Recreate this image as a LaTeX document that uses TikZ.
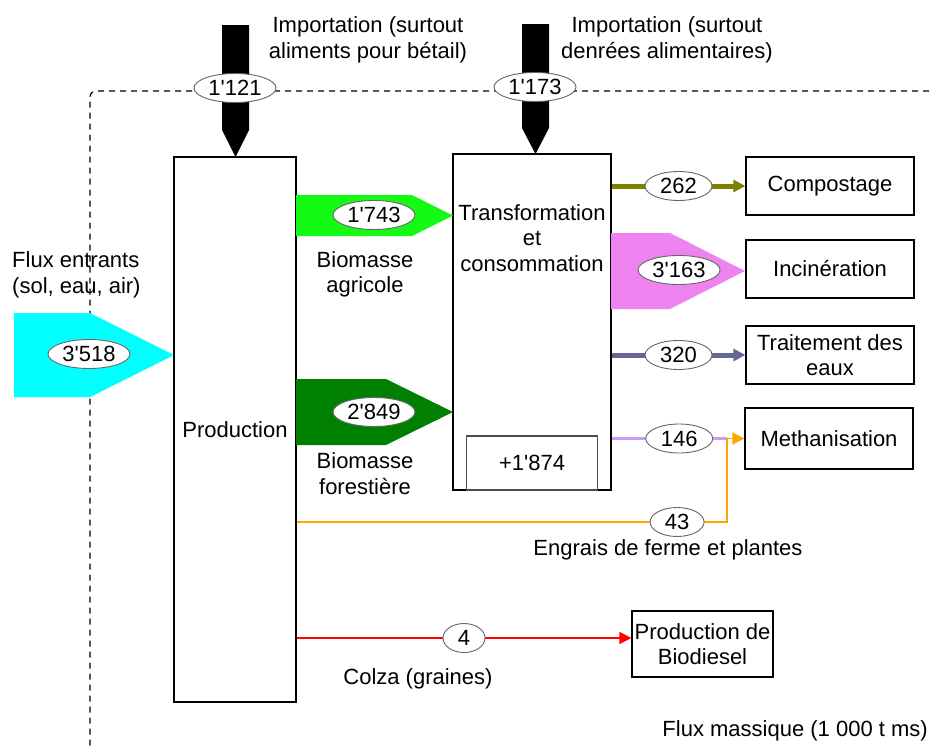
\documentclass[tikz,border=0pt]{standalone}
\usepackage{fontspec}
\setmainfont{Liberation Sans}
\usetikzlibrary{shapes.geometric,arrows.meta}
\definecolor{flcyan}{RGB}{0,255,255}
\definecolor{flgreen}{RGB}{20,250,20}
\definecolor{fldark}{RGB}{0,128,0}
\definecolor{flpink}{RGB}{238,130,238}
\definecolor{flolive}{RGB}{128,128,0}
\definecolor{flslate}{RGB}{102,102,153}
\definecolor{fllav}{RGB}{204,153,255}
\definecolor{florange}{RGB}{255,165,0}
\newcommand{\qs}{\textquotesingle}
\tikzset{
    BX/.style ={rectangle, draw, line width=1.2pt, align=center, inner sep=0pt},
    BS/.style ={rectangle, draw=black!70, line width=1.2pt, align=center, inner sep=0pt},
    EL/.style ={ellipse, draw=black!60, fill=white, text=black, line width=0.9pt, inner sep=0pt, minimum height=29pt, minimum width=#1},
    LB/.style ={align=center, inner sep=0pt},
    AR/.style ={-{Triangle[length=12pt,width=12pt]}},
    FX/.style ={line width=5pt, AR},
    TN/.style ={line width=1.5pt}}

\begin{document}
\begin{tikzpicture}[x=1pt,y=-1pt,font=\fontsize{22}{25.5}\selectfont]
        \useasboundingbox (0,0) rectangle (932,747);
        % cadre
        \draw[dash pattern=on 6pt off 5pt, line width=1.2pt, rounded corners=6pt] (940,91) -- (90,91) -- (90,760);
        % processus
        \node[BX, minimum width=122pt, minimum height=545pt] (P) at (235,429.5) {Production};
        \node[BX, minimum width=158pt, minimum height=336pt] (T) at (532,322) {};
        \node[LB] (tc) at (532,238) {Transformation\\et\\consommation};
        \node[BS, minimum width=131pt, minimum height=54pt, anchor=south] (S) at (T.south) {+1\qs874};
        \node[BX, minimum width=168pt, minimum height=58pt] (C) at (830,186) {Compostage};
        \node[BX, minimum width=168pt, minimum height=58pt] (I) at (830,269) {Incinération};
        \node[BX, minimum width=168pt, minimum height=58pt] (W) at (830,355) {Traitement des\\eaux};
        \node[BX, minimum width=168pt, minimum height=61pt] (M) at (829,438.5) {Methanisation};
        \node[BX, minimum width=141pt, minimum height=66pt] (B) at (702.5,644) {Production de\\Biodiesel};
        % flux larges
        \fill[black] (222,25) -- (249,25) -- (249,130) -- (235.5,157) -- (222,130) -- cycle;
        \fill[black] (522,24) -- (549,24) -- (549,128) -- (535.5,154) -- (522,128) -- cycle;
        \fill[flcyan] (14,313) -- (90,313) -- (174,355) -- (90,397) -- (14,397) -- cycle;
        \fill[flgreen] (296,195) -- (412,195) -- (453,215.5) -- (412,236) -- (296,236) -- cycle;
        \fill[fldark] (296,379) -- (386,379) -- (453,412) -- (386,445) -- (296,445) -- cycle;
        \fill[flpink] (611,233) -- (670,233) -- (745,271) -- (670,309) -- (611,309) -- cycle;
        \node[EL=82pt] (e1) at (235,88) {1\qs121};
        \node[EL=82pt] (e2) at (535,87) {1\qs173};
        \node[EL=82pt] (e3) at (89,354) {3\qs518};
        \node[EL=82pt] (e4) at (374,215) {1\qs743};
        \node[EL=82pt] (e5) at (374,412) {2\qs849};
        \node[EL=82pt] (e6) at (679,270) {3\qs163};
        % flux minces
        \coordinate (ej) at (727,522);
        \coordinate (rs) at ([yshift=6pt]B.west);
        \draw[FX, flolive] (T.east |- C) -- (C.west) node[EL=67pt, pos=.5]{262};
        \draw[FX, flslate] (T.east |- W) -- (W.west) node[EL=67pt, pos=.5]{320};
        \draw[line width=2.5pt, fllav] (T.east |- M) -- (ej |- M) node[EL=67pt, pos=.586]{146};
        \draw[TN, florange, AR] (P.east |- ej) -- (ej) node[EL=54pt, pos=.884]{43} -- (ej |- M) -- (M.west);
        \draw[TN, red, AR] (P.east |- rs) -- (rs) node[EL=42pt, pos=.5]{4};
        % textes
        \node[LB] (im1) at (368,40) {Importation (surtout\\aliments pour bétail)};
        \node[LB] (im2) at (667,40) {Importation (surtout\\denrées alimentaires)};
        \node[LB, align=left, anchor=west] (fe) at (12,275) {Flux entrants\\(sol, eau, air)};
        \node[LB] (ba) at (365,274.5) {Biomasse\\agricole};
        \node[LB] (bf) at (365,473.5) {Biomasse\\forestière};
        \node[LB] (ef) at (668,550) {Engrais de ferme et plantes};
        \node[LB] (cz) at (418,679) {Colza (graines)};
        \node[LB, anchor=east] (fm) at (928,731) {Flux massique (1 000 t ms)};
    \end{tikzpicture}
\end{document}
